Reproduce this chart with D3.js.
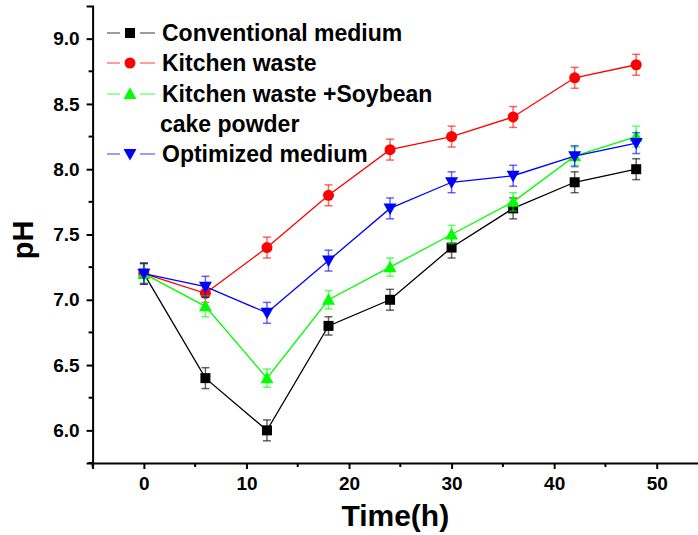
<!DOCTYPE html>
<html>
<head>
<meta charset="utf-8">
<script src="https://cdn.jsdelivr.net/npm/d3@7"></script>
<style>
  body { margin: 0; background: #fff; }
  svg text { font-family: "Liberation Sans", Arial, sans-serif; font-weight: bold; }
</style>
</head>
<body>
<svg id="chart" width="698" height="535"></svg>
<script>
// sampling times (h)
var times = [0, 6, 12, 18, 24, 30, 36, 42, 48];
var seriesNames = ["Conventional medium", "Kitchen waste", "Kitchen waste +Soybean cake powder", "Optimized medium"];
var conventional = [7.2, 6.4, 6.0, 6.8, 7.0, 7.4, 7.7, 7.9, 8.0];
var kitchenWaste = [7.2, 7.05, 7.4, 7.8, 8.15, 8.25, 8.4, 8.7, 8.8];
var kitchenSoy = [7.2, 6.95, 6.4, 7.0, 7.25, 7.5, 7.75, 8.1, 8.25];
var optimized = [7.2, 7.1, 6.9, 7.3, 7.7, 7.9, 7.95, 8.1, 8.2];
var errConventional = [0.08, 0.08, 0.08, 0.07, 0.08, 0.08, 0.08, 0.08, 0.08];
var errKitchen = [0.08, 0.07, 0.08, 0.08, 0.08, 0.08, 0.08, 0.08, 0.08];
var errSoy = [0.07, 0.08, 0.07, 0.07, 0.07, 0.07, 0.07, 0.07, 0.08];
var errOptimized = [0.08, 0.08, 0.08, 0.08, 0.08, 0.08, 0.08, 0.08, 0.08];
var xTicks = [0, 10, 20, 30, 40, 50];
var yTicks = [6.0, 6.5, 7.0, 7.5, 8.0, 8.5, 9.0];

var colors = ["#000000", "#ff0000", "#00ff00", "#0000ff"];
var shapes = ["square", "circle", "triangle", "down"];
var values = [conventional, kitchenWaste, kitchenSoy, optimized];
var errs = [errConventional, errKitchen, errSoy, errOptimized];

var svg = d3.select("#chart");

var x = d3.scaleLinear().domain([-5, 55]).range([92.6, 708]);
var y = d3.scaleLinear().domain([5.75, 9.25]).range([463, 6]);

// axes
var xAxis = svg.append("g")
    .attr("transform", "translate(0," + y(5.75) + ")")
    .call(d3.axisBottom(x).tickValues(xTicks).tickFormat(d3.format("d")).tickSize(6).tickPadding(8));
var yAxis = svg.append("g")
    .attr("transform", "translate(" + x(-5) + ",0)")
    .call(d3.axisLeft(y).tickValues(yTicks).tickFormat(d3.format(".1f")).tickSize(6).tickPadding(7));

// minor ticks
svg.append("g").selectAll("line")
    .data([-5, 5, 15, 25, 35, 45])
  .enter().append("line")
    .attr("x1", d => x(d)).attr("x2", d => x(d))
    .attr("y1", y(5.75)).attr("y2", y(5.75) + 4)
    .attr("stroke", "#000").attr("stroke-width", 2);
svg.append("g").selectAll("line")
    .data([5.75, 6.25, 6.75, 7.25, 7.75, 8.25, 8.75])
  .enter().append("line")
    .attr("x1", x(-5) - 4).attr("x2", x(-5))
    .attr("y1", d => y(d)).attr("y2", d => y(d))
    .attr("stroke", "#000").attr("stroke-width", 2);

[xAxis, yAxis].forEach(function(g) {
  g.select(".domain").attr("stroke-width", 2);
  g.selectAll(".tick line").attr("stroke-width", 2);
  g.selectAll(".tick text").attr("font-size", 19).attr("fill", "#000")
    .style("font-family", "'Liberation Sans', Arial, sans-serif").style("font-weight", "bold");
});

svg.append("text")
    .attr("x", (x(-5) + 698) / 2).attr("y", 526)
    .attr("text-anchor", "middle")
    .attr("font-size", 30)
    .text("Time(h)");
svg.append("text")
    .attr("transform", "translate(33,240) rotate(-90)")
    .attr("text-anchor", "middle")
    .attr("font-size", 29)
    .text("pH");

function marker(g, shape, color, cx, cy) {
  if (shape == "square") {
    g.append("rect").attr("x", cx - 5).attr("y", cy - 5).attr("width", 10).attr("height", 10).attr("fill", color);
  } else if (shape == "circle") {
    g.append("circle").attr("cx", cx).attr("cy", cy).attr("r", 5.5).attr("fill", color);
  } else if (shape == "triangle") {
    g.append("path").attr("d", "M" + cx + "," + (cy - 6.5) + "L" + (cx + 6.5) + "," + (cy + 5) + "L" + (cx - 6.5) + "," + (cy + 5) + "Z").attr("fill", color);
  } else {
    g.append("path").attr("d", "M" + cx + "," + (cy + 6.5) + "L" + (cx + 6.5) + "," + (cy - 5) + "L" + (cx - 6.5) + "," + (cy - 5) + "Z").attr("fill", color);
  }
}

var line = d3.line().x(d => x(d.t)).y(d => y(d.v));

values.forEach(function(vals, s) {
  var pts = times.map((t, i) => ({t: t, v: vals[i], e: errs[s][i]}));
  var g = svg.append("g");
  g.append("path").datum(pts)
    .attr("d", line).attr("fill", "none")
    .attr("stroke", colors[s]).attr("stroke-width", 1.3);
  // error bars
  var eb = g.append("g").attr("stroke", colors[s]).attr("stroke-opacity", 0.6).attr("stroke-width", 1.5);
  pts.forEach(function(d) {
    eb.append("line").attr("x1", x(d.t)).attr("x2", x(d.t)).attr("y1", y(d.v - d.e)).attr("y2", y(d.v + d.e));
    eb.append("line").attr("x1", x(d.t) - 4).attr("x2", x(d.t) + 4).attr("y1", y(d.v - d.e)).attr("y2", y(d.v - d.e));
    eb.append("line").attr("x1", x(d.t) - 4).attr("x2", x(d.t) + 4).attr("y1", y(d.v + d.e)).attr("y2", y(d.v + d.e));
  });
  pts.forEach(function(d) { marker(g, shapes[s], colors[s], x(d.t), y(d.v)); });
});

// legend
var legendRows = [33, 63, 94, 154];
var legend = svg.append("g");
seriesNames.forEach(function(name, s) {
  var ly = legendRows[s];
  var lg = legend.append("g");
  lg.append("line").attr("x1", 107).attr("x2", 120).attr("y1", ly).attr("y2", ly)
    .attr("stroke", colors[s]).attr("stroke-opacity", 0.6).attr("stroke-width", 1.3);
  lg.append("line").attr("x1", 140).attr("x2", 155).attr("y1", ly).attr("y2", ly)
    .attr("stroke", colors[s]).attr("stroke-opacity", 0.6).attr("stroke-width", 1.3);
  marker(lg, shapes[s], colors[s], 130, ly);
  var txt = lg.append("text").attr("x", 162).attr("y", ly + 8).attr("font-size", 23);
  if (s == 2) {
    txt.text("Kitchen waste +Soybean");
    lg.append("text").attr("x", 160).attr("y", ly + 38).attr("font-size", 23).text("cake powder");
  } else {
    txt.text(name);
  }
});
</script>
</body>
</html>
